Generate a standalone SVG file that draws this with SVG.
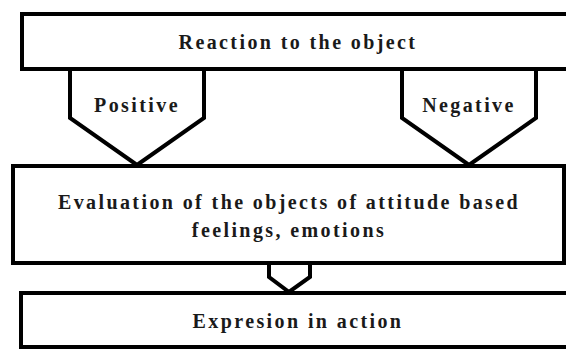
<svg xmlns="http://www.w3.org/2000/svg" width="566" height="349" viewBox="0 0 566 349">
<style>
.box{fill:#fff;stroke:#000;stroke-width:4}
.arr{fill:#fff;stroke:#000;stroke-width:4;stroke-linejoin:miter}
.t{font-family:"Liberation Serif","Times New Roman",serif;font-weight:bold;font-size:20px;letter-spacing:2.4px;fill:#1a1a1a;text-anchor:middle}
</style>
<rect width="566" height="349" fill="#fff"/>
<g id="connectors">
<path class="arr" d="M70,69 V118 L137,165 L204,118 V69"/>
<path class="arr" d="M402,69 V118 L469,165 L536,118 V69"/>
<path class="arr" d="M269,263 V277 L289,292 L310,277 V263"/>
</g>
<g id="reaction">
<rect class="box" x="22" y="14" width="554" height="55"/>
<text class="t" x="298" y="49">Reaction to the object</text>
</g>
<g id="positive">
<text class="t" x="137" y="112">Positive</text>
</g>
<g id="negative">
<text class="t" x="469" y="112">Negative</text>
</g>
<g id="evaluation">
<rect class="box" x="13" y="166" width="551" height="97"/>
<text class="t" x="289" y="209">Evaluation of the objects of attitude based</text>
<text class="t" x="289" y="237">feelings, emotions</text>
</g>
<g id="expression">
<rect class="box" x="21" y="293" width="556" height="54"/>
<text class="t" x="298" y="328">Expresion in action</text>
</g>
</svg>
